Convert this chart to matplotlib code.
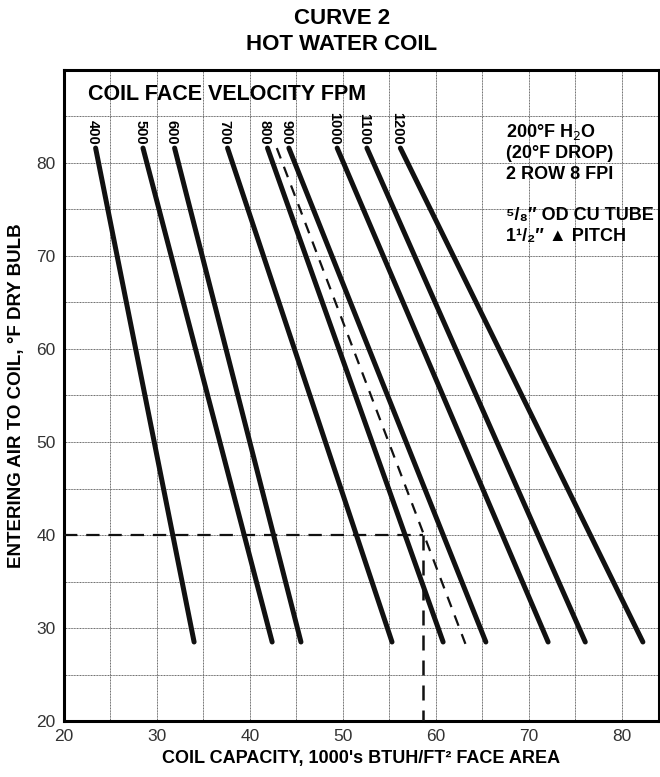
import matplotlib.pyplot as plt
import numpy as np

plt.rcParams['font.family'] = ['Liberation Sans', 'DejaVu Sans']

# coil face velocity (fpm) and capacity read at top / bottom of each line
velocities = [400, 500, 600, 700, 800, 900, 1000, 1100, 1200]
cap_top = [23.4, 28.5, 31.9, 37.6, 41.9, 44.2, 49.4, 52.6, 56.2]
cap_bottom = [34.0, 42.4, 45.5, 55.3, 60.8, 65.4, 72.1, 76.1, 82.3]
eat_top = 81.6
eat_bottom = 28.5

# dashed interpolated line and example reading
dash_cap = [42.9, 63.2]
dash_eat = [81.6, 28.3]
example_eat = 40
example_cap = 58.6

x_ticks = [20, 30, 40, 50, 60, 70, 80]
y_ticks = [20, 30, 40, 50, 60, 70, 80]

notes = ['200°F H$_2$O', '(20°F DROP)', '2 ROW 8 FPI', '',
         '⁵/₈″ OD CU TUBE', '1¹/₂″ ▲ PITCH']

fig = plt.figure(figsize=(6.6, 7.77), dpi=100)
ax = fig.add_axes([0.097, 0.072, 0.901, 0.838])

for v, xt, xb in zip(velocities, cap_top, cap_bottom):
    ax.plot([xt, xb], [eat_top, eat_bottom], c='#111111', lw=3.6,
            solid_capstyle='round', zorder=3)
    ax.text(xt - 0.3, eat_top + 0.4, str(v), rotation=270, ha='center',
            va='bottom', fontsize=10.5, fontweight='bold', zorder=4)

ax.plot(dash_cap, dash_eat, c='#111111', lw=1.6, ls=(0, (5, 4)), zorder=3)
ax.plot([20, example_cap], [example_eat, example_eat], c='#111111', lw=1.6,
        ls=(0, (6, 4)), zorder=3)
ax.plot([example_cap, example_cap], [example_eat, 20], c='#111111', lw=1.8,
        ls=(0, (6, 4)), zorder=3)

ax.text(22.6, 87.4, 'COIL FACE VELOCITY FPM', fontsize=15.5,
        fontweight='bold', va='center', ha='left', zorder=4)

for i, line in enumerate(notes):
    ax.text(67.6, 83.3 - i * 2.25, line, fontsize=13, fontweight='bold',
            va='center', ha='left')

ax.set_xlim(20, 84)
ax.set_ylim(20, 90)
ax.set_xticks(x_ticks)
ax.set_yticks(y_ticks)
ax.set_xticks(np.arange(25, 84, 10), minor=True)
ax.set_yticks(np.arange(25, 90, 10), minor=True)
ax.grid(which='both', c='#666666', lw=0.7, ls=(0, (1, 0.6)))
ax.tick_params(which='both', length=0, labelsize=12.5, pad=6,
               labelcolor='#333333')
for s in ax.spines.values():
    s.set_linewidth(2.2)

ax.set_xlabel("COIL CAPACITY, 1000's BTUH/FT² FACE AREA", fontsize=13,
              fontweight='bold', labelpad=4)
ax.set_ylabel('ENTERING AIR TO COIL, °F DRY BULB', fontsize=13.5,
              fontweight='bold', labelpad=8)

fig.text(0.518, 0.976, 'CURVE 2', ha='center', va='center', fontsize=16,
         fontweight='bold')
fig.text(0.518, 0.943, 'HOT WATER COIL', ha='center', va='center',
         fontsize=16, fontweight='bold')

plt.savefig('out.png', dpi=100)
